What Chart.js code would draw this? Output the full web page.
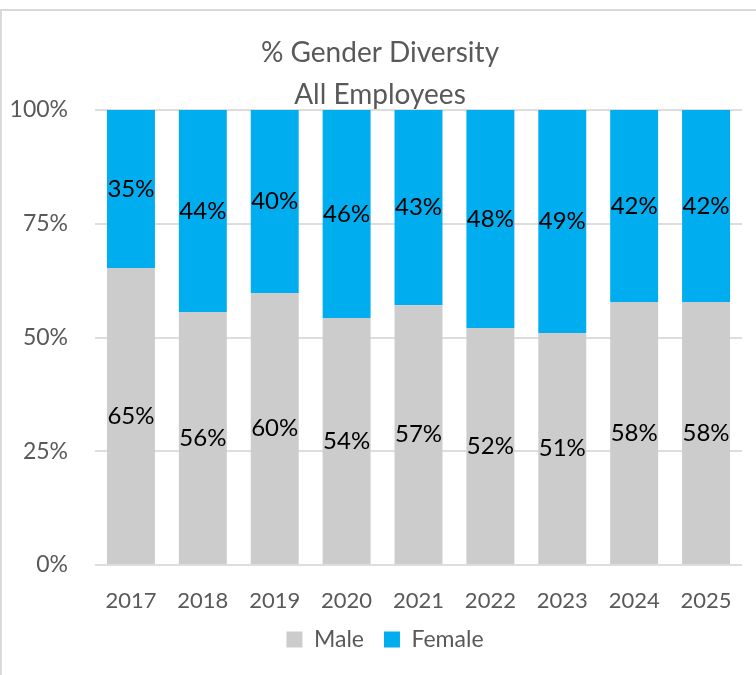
<!DOCTYPE html>
<html>
<head>
<meta charset="utf-8">
<script src="https://cdn.jsdelivr.net/npm/chart.js@4/dist/chart.umd.min.js"></script>
<style>
  html, body { margin: 0; padding: 0; background: #fff; }
  #wrap { position: relative; width: 756px; height: 675px; }
  #frame { position: absolute; left: 0; top: 9px; width: 754px; height: 666px;
           border-top: 2px solid #d9d9d9; border-left: 2px solid #d9d9d9; }
  canvas { position: absolute; left: 0; top: 0; }
</style>
</head>
<body>
<div id="wrap">
  <div id="frame"></div>
  <canvas id="genderChart" width="756" height="675"></canvas>
</div>
<script>
/////////////////////////////// DATA ///////////////////////////////
const years = ["2017", "2018", "2019", "2020", "2021", "2022", "2023", "2024", "2025"];
const male = [65.3, 55.6, 59.8, 54.3, 57.1, 52.1, 51.0, 57.8, 57.8];
const female = [34.7, 44.4, 40.2, 45.7, 42.9, 47.9, 49.0, 42.2, 42.2];
const titleLines = ["% Gender Diversity", "All Employees"];

/////////////////////////////// COLORS ///////////////////////////////
const c_male = "#CCCCCC";
const c_female = "#00AEEF";
const c_text = "#595959";
const c_grid = "#DDDDDD";
const fontFamily = "Lato, 'Noto Sans', sans-serif";

// Title drawn in two lines, overlapping the top of the plot like the original
const titlePlugin = {
    id: "twoLineTitle",
    afterDraw(chart) {
        const ctx = chart.ctx;
        ctx.save();
        ctx.font = "28px " + fontFamily;
        ctx.fillStyle = c_text;
        ctx.textAlign = "center";
        ctx.textBaseline = "middle";
        ctx.fillText(titleLines[0], chart.width / 2 + 2, 53);
        ctx.fillText(titleLines[1], chart.width / 2 + 2, 95);
        ctx.restore();
    }
};

// Percentage labels in the middle of each segment
const valueLabels = {
    id: "valueLabels",
    afterDatasetsDraw(chart) {
        const ctx = chart.ctx;
        ctx.save();
        ctx.font = "24px " + fontFamily;
        ctx.fillStyle = "#000000";
        ctx.textAlign = "center";
        ctx.textBaseline = "middle";
        chart.data.datasets.forEach((ds, i) => {
            chart.getDatasetMeta(i).data.forEach((bar, j) => {
                const mid = (bar.y + bar.base) / 2;
                ctx.fillText(Math.round(ds.data[j]) + "%", bar.x, mid);
            });
        });
        ctx.restore();
    }
};

// Nudge the legend a bit right, it sits centred on the whole canvas in the original
const legendShift = {
    id: "legendShift",
    afterLayout(chart) {
        chart.legend.left += 14;
        chart.legend.right += 14;
    }
};

const ctx = document.getElementById("genderChart").getContext("2d");
const genderChart = new Chart(ctx, {
    type: "bar",
    data: {
        labels: years,
        datasets: [
            { label: "Male", data: male, backgroundColor: c_male, categoryPercentage: 1, barPercentage: 0.667 },
            { label: "Female", data: female, backgroundColor: c_female, categoryPercentage: 1, barPercentage: 0.667 }
        ]
    },
    options: {
        responsive: false,
        animation: false,
        layout: { padding: { top: 110, right: 14, left: 0, bottom: 14 } },
        plugins: {
            title: { display: false },
            tooltip: { enabled: false },
            legend: {
                position: "bottom",
                labels: {
                    boxWidth: 16,
                    boxHeight: 16,
                    padding: 20,
                    color: c_text,
                    font: { family: fontFamily, size: 23 }
                }
            }
        },
        scales: {
            x: {
                stacked: true,
                grid: { display: false },
                border: { display: false },
                ticks: { color: c_text, padding: 15, font: { family: fontFamily, size: 22 } },
                afterFit(scale) { scale.height = 43; }
            },
            y: {
                stacked: true,
                min: 0,
                max: 100,
                grid: { color: c_grid, lineWidth: 2, drawTicks: false },
                border: { display: false },
                ticks: {
                    stepSize: 25,
                    padding: 27,
                    color: c_text,
                    font: { family: fontFamily, size: 23 },
                    callback: v => v + "%"
                },
                afterFit(scale) { scale.width = 95; }
            }
        }
    },
    plugins: [valueLabels, titlePlugin, legendShift]
});
</script>
</body>
</html>
